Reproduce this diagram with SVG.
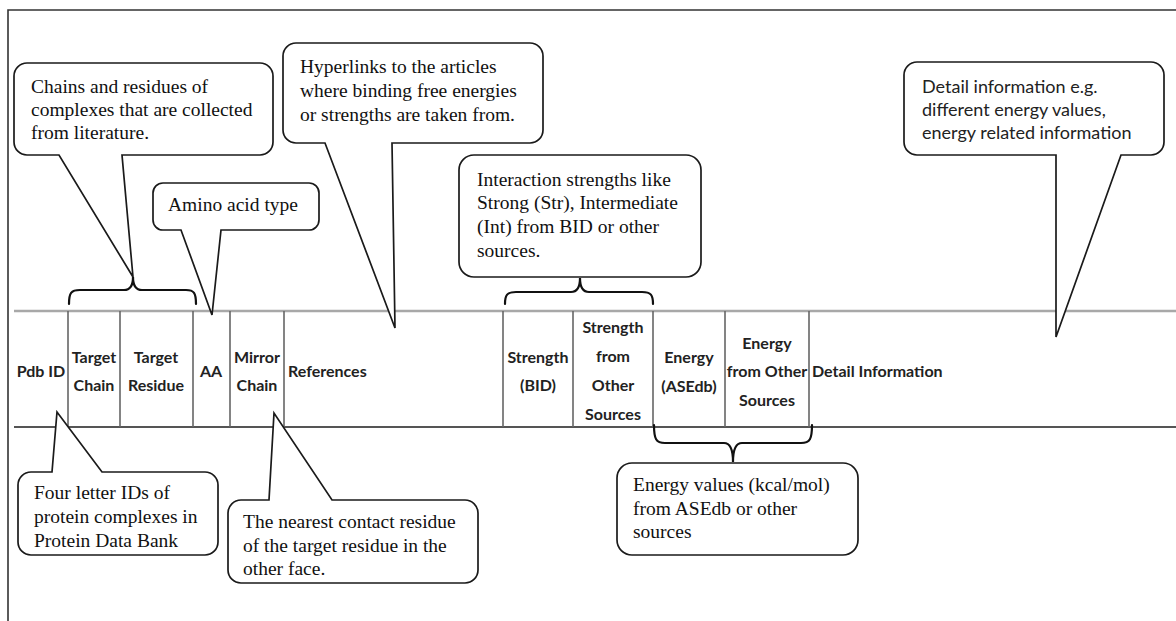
<svg xmlns="http://www.w3.org/2000/svg" width="1176" height="621" viewBox="0 0 1176 621">
<style>
.bg{fill:#ffffff}
.frame{stroke:#333;stroke-width:1.6;fill:none}
.tl-top{stroke:#a8a8a8;stroke-width:2.5;fill:none}
.tl-bot{stroke:#555;stroke-width:2;fill:none}
.div{stroke:#666;stroke-width:1.6;fill:none}
.call{fill:#fff;stroke:#1a1a1a;stroke-width:1.7;stroke-linejoin:miter}
.brace{fill:none;stroke:#111;stroke-width:2.2;stroke-linecap:round}
.hd{font-family:Lato,"Liberation Sans",sans-serif;font-weight:700;font-size:16px;fill:#222;text-anchor:middle}
.hdl{font-family:Lato,"Liberation Sans",sans-serif;font-weight:700;font-size:16px;fill:#222}
.ct{font-family:"Liberation Serif","Times New Roman",serif;font-size:19.5px;fill:#111}
.cs{font-family:Lato,"Liberation Sans",sans-serif;font-size:18px;fill:#222}
</style>
<rect class="bg" x="0" y="0" width="1176" height="621"/>
<g id="frame">
<path class="frame" d="M8,621 V10 H1176"/>
</g>
<g id="table">
<line class="tl-top" x1="14" y1="311" x2="1176" y2="311"/>
<line class="tl-bot" x1="14" y1="427" x2="1176" y2="427"/>
<path class="div" d="M68,311V427M120,311V427M193,311V427M230,311V427M284,311V427M503,311V427M573,311V427M653,311V427M725,311V427M809,311V427"/>
</g>
<g id="col-pdbid"><text class="hd" x="41" y="377">Pdb ID</text></g>
<g id="col-target-chain"><text class="hd" x="94" y="363">Target</text><text class="hd" x="94" y="391">Chain</text></g>
<g id="col-target-residue"><text class="hd" x="156" y="363">Target</text><text class="hd" x="156" y="391">Residue</text></g>
<g id="col-aa"><text class="hd" x="211" y="377">AA</text></g>
<g id="col-mirror-chain"><text class="hd" x="257" y="363">Mirror</text><text class="hd" x="257" y="391">Chain</text></g>
<g id="col-references"><text class="hdl" x="288" y="377">References</text></g>
<g id="col-strength-bid"><text class="hd" x="538" y="363">Strength</text><text class="hd" x="538" y="391">(BID)</text></g>
<g id="col-strength-other"><text class="hd" x="613" y="333">Strength</text><text class="hd" x="613" y="362">from</text><text class="hd" x="613" y="391">Other</text><text class="hd" x="613" y="420">Sources</text></g>
<g id="col-energy-asedb"><text class="hd" x="689" y="363">Energy</text><text class="hd" x="689" y="392">(ASEdb)</text></g>
<g id="col-energy-other"><text class="hd" x="767" y="349">Energy</text><text class="hd" x="767" y="377">from Other</text><text class="hd" x="767" y="406">Sources</text></g>
<g id="col-detail"><text class="hdl" x="812" y="377">Detail Information</text></g>
<g id="connectors">
<path class="brace" d="M69,304 C69,293 71,290 80,290 H124 C130,290 133,286 133,277 C133,286 136,290 142,290 H186 C194,290 196,293 196,304"/>
<path class="brace" d="M505,304 C505,295 507,292 516,292 H571 C577,292 580,288 580,278 C580,288 583,292 589,292 H642 C651,292 653,295 653,304"/>
<path class="brace" d="M654,425 C654,439 656,443 665,443 H724 C730,443 733,448 733,462 C733,448 736,443 742,443 H801 C810,443 812,439 812,425"/>
</g>
<g id="callout-chains">
<path class="call" d="M27,63 H260 A13,13 0 0 1 273,76 V142 A13,13 0 0 1 260,155 H122 L133,277 L59,155 H27 A13,13 0 0 1 14,142 V76 A13,13 0 0 1 27,63 Z"/>
<text class="ct" x="31" y="93">Chains and residues of</text>
<text class="ct" x="31" y="116">complexes that are collected</text>
<text class="ct" x="31" y="139">from literature.</text>
</g>
<g id="callout-aa">
<path class="call" d="M163,183 H309 A10,10 0 0 1 319,193 V220 A10,10 0 0 1 309,230 H221 L212,315 L181,230 H163 A10,10 0 0 1 153,220 V193 A10,10 0 0 1 163,183 Z"/>
<text class="ct" x="168" y="211">Amino acid type</text>
</g>
<g id="callout-hyperlinks">
<path class="call" d="M296,43 H530 A13,13 0 0 1 543,56 V130 A13,13 0 0 1 530,143 H392 L395,328 L325,143 H296 A13,13 0 0 1 283,130 V56 A13,13 0 0 1 296,43 Z"/>
<text class="ct" x="300" y="73">Hyperlinks to the articles</text>
<text class="ct" x="300" y="97">where binding free energies</text>
<text class="ct" x="300" y="121">or strengths are taken from.</text>
</g>
<g id="callout-strength">
<rect class="call" x="459" y="155" width="242" height="122" rx="15" ry="15"/>
<text class="ct" x="477" y="186">Interaction strengths like</text>
<text class="ct" x="477" y="209">Strong (Str), Intermediate</text>
<text class="ct" x="477" y="233">(Int) from BID or other</text>
<text class="ct" x="477" y="257">sources.</text>
</g>
<g id="callout-detail">
<path class="call" d="M917,62 H1151 A13,13 0 0 1 1164,75 V142 A13,13 0 0 1 1151,155 H1121 L1056,337 L1056,155 H917 A13,13 0 0 1 904,142 V75 A13,13 0 0 1 917,62 Z"/>
<text class="cs" x="922" y="93">Detail information e.g.</text>
<text class="cs" x="922" y="116">different energy values,</text>
<text class="cs" x="922" y="139">energy related information</text>
</g>
<g id="callout-pdbid">
<path class="call" d="M31,472 H52 L57,412 L102,472 H205 A13,13 0 0 1 218,485 V542 A13,13 0 0 1 205,555 H31 A13,13 0 0 1 18,542 V485 A13,13 0 0 1 31,472 Z"/>
<text class="ct" x="34" y="499">Four letter IDs of</text>
<text class="ct" x="34" y="523">protein complexes in</text>
<text class="ct" x="34" y="547">Protein Data Bank</text>
</g>
<g id="callout-mirror">
<path class="call" d="M241,500 H269 L274,413 L332,500 H465 A13,13 0 0 1 478,513 V570 A13,13 0 0 1 465,583 H241 A13,13 0 0 1 228,570 V513 A13,13 0 0 1 241,500 Z"/>
<text class="ct" x="243" y="528">The nearest contact residue</text>
<text class="ct" x="243" y="552">of the target residue in the</text>
<text class="ct" x="243" y="575">other face.</text>
</g>
<g id="callout-energy">
<rect class="call" x="617" y="463" width="241" height="92" rx="15" ry="15"/>
<text class="ct" x="633" y="491">Energy values (kcal/mol)</text>
<text class="ct" x="633" y="515">from ASEdb or other</text>
<text class="ct" x="633" y="538">sources</text>
</g>
</svg>
